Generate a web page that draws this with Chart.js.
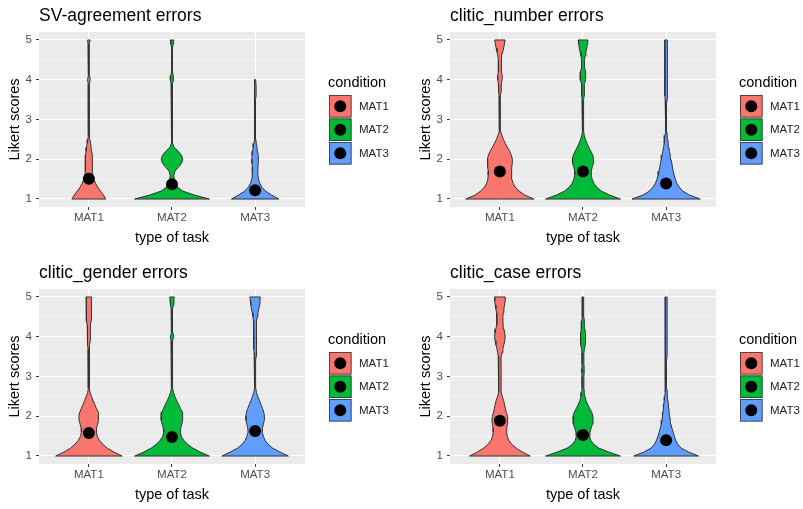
<!DOCTYPE html>
<html>
<head>
  <meta charset="UTF-8">
  <script src="https://cdn.jsdelivr.net/npm/chart.js"></script>
  <title>Likert violins</title>
  <style>
    body { margin: 0; background: #fff; width: 803px; height: 509px; overflow: hidden; position: relative; }
    canvas { position: absolute; }
  </style>
</head>
<body>
  <canvas id="c0" width="392" height="254" style="left:0px;top:0px"></canvas>
  <canvas id="c1" width="392" height="254" style="left:411px;top:0px"></canvas>
  <canvas id="c2" width="392" height="254" style="left:0px;top:257px"></canvas>
  <canvas id="c3" width="392" height="254" style="left:411px;top:257px"></canvas>
</body>
</html>

<script>
  var titles = ['SV-agreement errors', 'clitic_number errors', 'clitic_gender errors', 'clitic_case errors'];
  var categories = ['MAT1', 'MAT2', 'MAT3'];
  var colors = ['#F8766D', '#00BA38', '#619CFF'];
  var yTicks = [1, 1.5, 2, 2.5, 3, 3.5, 4, 4.5, 5];
  var yLevels = [1, 1.1, 1.2, 1.3, 1.4, 1.5, 1.6, 1.7, 1.8, 1.9,
    2, 2.1, 2.2, 2.3, 2.4, 2.5, 2.6, 2.7, 2.8, 2.9,
    3, 3.1, 3.2, 3.3, 3.4, 3.5, 3.6, 3.7, 3.8, 3.9,
    4, 4.1, 4.2, 4.3, 4.4, 4.5, 4.6, 4.7, 4.8, 4.9, 5];

  // half widths of each violin (x units) at yLevels
  var svMat1 = [.205, .175, .14, .105, .08, .06, .048, .042, .04, .042,
    .046, .04, .034, .028, .02, .012, .01, .008, .01, .006,
    .005, .005, .005, .007, .006, .005, .005, .005, .005, .008,
    .016, .008, .005, .005, .005, .005, .005, .005, .006, .01, .015];
  var svMat2 = [.45, .27, .13, .065, .038, .026, .022, .035, .075, .115,
    .13, .115, .075, .025, .008, .005, .005, .005, .005, .005,
    .005, .005, .005, .005, .005, .005, .005, .005, .006, .012,
    .02, .015, .007, .005, .005, .005, .005, .005, .005, .014, .02];
  var svMat3 = [.285, .2, .125, .08, .055, .04, .034, .032, .034, .038,
    .04, .036, .03, .024, .014, .008, .006, .005, .005, .004,
    .004, .004, .004, .004, .005, .007, .012, .012, .012, .01,
    .008, null, null, null, null, null, null, null, null, null, null];

  var numMat1 = [.41, .3, .23, .185, .158, .145, .14, .14, .145, .15,
    .15, .138, .118, .09, .065, .042, .024, .01, .006, .005,
    .005, .005, .005, .005, .005, .006, .01, .014, .016, .018,
    .026, .028, .02, .017, .016, .018, .025, .035, .045, .055, .062];
  var numMat2 = [.45, .32, .22, .165, .13, .11, .1, .1, .11, .125,
    .128, .118, .095, .07, .048, .03, .015, .008, .006, .006,
    .006, .006, .006, .006, .008, .012, .014, .016, .016, .018,
    .032, .034, .03, .02, .016, .018, .025, .035, .045, .052, .058];
  var numMat3 = [.41, .28, .2, .158, .128, .11, .096, .086, .076, .068,
    .058, .05, .04, .032, .025, .02, .014, .008, .005, .004,
    .004, .004, .004, .004, .005, .012, .015, .015, .015, .015,
    .015, .015, .015, .015, .015, .015, .015, .015, .015, .015, .015];

  var genMat1 = [.40, .3, .22, .165, .125, .1, .09, .092, .105, .118,
    .12, .11, .09, .07, .05, .032, .014, .006, .005, .008,
    .005, .004, .006, .006, .008, .01, .01, .01, .012, .016,
    .022, .016, .016, .02, .026, .03, .03, .03, .032, .032, .032];
  var genMat2 = [.45, .34, .25, .185, .14, .112, .1, .104, .118, .128,
    .132, .124, .1, .08, .055, .035, .018, .008, .005, .005,
    .005, .005, .006, .005, .005, .008, .012, .008, .006, .012,
    .02, .012, .006, .005, .005, .005, .006, .01, .018, .024, .026];
  var genMat3 = [.40, .3, .21, .155, .118, .098, .085, .088, .1, .11,
    .112, .104, .088, .07, .05, .032, .016, .008, .006, .005,
    .005, .005, .005, .006, .01, .012, .012, .014, .014, .018,
    .022, .018, .016, .016, .02, .026, .034, .044, .052, .058, .062];

  var caseMat1 = [.365, .27, .195, .14, .105, .088, .08, .082, .09, .096,
    .09, .076, .066, .056, .044, .028, .016, .014, .014, .014,
    .014, .014, .014, .014, .016, .02, .026, .036, .048, .058,
    .064, .058, .048, .04, .036, .036, .04, .048, .056, .062, .064];
  var caseMat2 = [.45, .31, .19, .125, .092, .08, .084, .098, .112, .12,
    .12, .105, .08, .056, .036, .024, .016, .012, .01, .01,
    .012, .014, .014, .012, .01, .01, .012, .018, .026, .03,
    .032, .028, .022, .018, .014, .01, .008, .008, .008, .008, .008];
  var caseMat3 = [.39, .27, .18, .14, .115, .098, .084, .07, .058, .05,
    .044, .038, .032, .028, .022, .018, .012, .007, .005, .004,
    .004, .004, .004, .004, .005, .012, .012, .012, .012, .012,
    .012, .012, .012, .012, .012, .012, .012, .012, .012, .012, .012];

  var svMeans = [1.51, 1.37, 1.22];
  var numMeans = [1.69, 1.69, 1.39];
  var genMeans = [1.58, 1.48, 1.63];
  var caseMeans = [1.89, 1.53, 1.40];

  var panelWidths = [
    [svMat1, svMat2, svMat3],
    [numMat1, numMat2, numMat3],
    [genMat1, genMat2, genMat3],
    [caseMat1, caseMat2, caseMat3]
  ];
  var panelMeans = [svMeans, numMeans, genMeans, caseMeans];

  var edge = '#333333';
  var fam = '"Liberation Sans", Arial, sans-serif';
  Chart.defaults.font.family = fam;

  function violinSets(center, widths, color) {
    var pts = [];
    for (var i = 0; i < yLevels.length; i++) {
      if (widths[i] != null) pts.push({ y: yLevels[i], w: widths[i] });
    }
    var left = pts.map(function (p) { return { x: center - p.w, y: p.y }; });
    var right = pts.map(function (p) { return { x: center + p.w, y: p.y }; });
    var outline = right.concat(left.slice().reverse(), [right[0]]);
    return [
      { data: outline, borderColor: edge, borderWidth: 1, fill: false, pointRadius: 0 },
      { data: left, borderColor: 'rgba(0,0,0,0)', borderWidth: 0, fill: false, pointRadius: 0 },
      { data: right, borderColor: 'rgba(0,0,0,0)', borderWidth: 0, fill: '-1', backgroundColor: color, pointRadius: 0 }
    ];
  }

  var panelBg = {
    id: 'panelBg',
    beforeDraw: function (chart) {
      var a = chart.chartArea;
      chart.ctx.save();
      chart.ctx.fillStyle = '#EBEBEB';
      chart.ctx.fillRect(a.left, a.top, a.right - a.left, a.bottom - a.top);
      chart.ctx.restore();
    }
  };

  var condLegend = {
    id: 'condLegend',
    afterDraw: function (chart) {
      var ctx = chart.ctx;
      var a = chart.chartArea;
      var x0 = a.right + 24;
      var cy = (a.top + a.bottom) / 2;
      ctx.save();
      ctx.textBaseline = 'middle';
      ctx.textAlign = 'left';
      ctx.font = '14.5px ' + fam;
      ctx.fillStyle = '#000';
      ctx.fillText('condition', x0 - 1, cy - 37);
      for (var i = 0; i < categories.length; i++) {
        var top = cy - 24.5 + i * 23.5;
        ctx.fillStyle = colors[i];
        ctx.fillRect(x0, top, 22.5, 22.5);
        ctx.strokeStyle = edge;
        ctx.lineWidth = 0.8;
        ctx.strokeRect(x0 + 0.4, top + 0.4, 21.7, 21.7);
        ctx.beginPath();
        ctx.arc(x0 + 11.25, top + 11.25, 6, 0, 2 * Math.PI);
        ctx.fillStyle = '#000';
        ctx.fill();
        ctx.fillStyle = '#222';
        ctx.font = '11.5px ' + fam;
        ctx.fillText(categories[i], x0 + 30, top + 11.5);
      }
      ctx.restore();
    }
  };

  function isMajor(v) { return Math.abs(v - Math.round(v)) < 1e-6; }

  for (var p = 0; p < 4; p++) {
    var datasets = [{
      data: panelMeans[p].map(function (m, i) { return { x: i + 1, y: m }; }),
      showLine: false,
      pointRadius: 6,
      pointBackgroundColor: '#000',
      pointBorderWidth: 0,
      borderColor: '#000'
    }];
    for (var c = 0; c < 3; c++) {
      datasets = datasets.concat(violinSets(c + 1, panelWidths[p][c], colors[c]));
    }

    new Chart(document.getElementById('c' + p), {
      type: 'line',
      data: { datasets: datasets },
      plugins: [panelBg, condLegend],
      options: {
        responsive: false,
        animation: false,
        events: [],
        indexAxis: 'y',
        layout: { padding: { left: 0, right: 87, top: 0, bottom: 0 } },
        elements: { line: { tension: 0 }, point: { radius: 0 } },
        plugins: {
          legend: { display: false },
          tooltip: { enabled: false },
          filler: { drawTime: 'beforeDatasetsDraw' },
          title: {
            display: true,
            text: titles[p],
            align: 'start',
            fullSize: false,
            color: '#000',
            font: { size: 17.5, weight: 'normal' },
            padding: { top: 6, bottom: 5 }
          }
        },
        scales: {
          x: {
            type: 'linear',
            min: 0.4,
            max: 3.6,
            afterBuildTicks: function (s) { s.ticks = [1, 2, 3].map(function (v) { return { value: v }; }); },
            afterFit: function (s) { s.height = 47; },
            ticks: {
              autoSkip: false,
              maxRotation: 0,
              padding: 1,
              color: '#4D4D4D',
              font: { size: 11.5 },
              callback: function (v) { return categories[v - 1]; }
            },
            grid: { color: '#FFFFFF', lineWidth: 1.1, tickLength: 3, tickColor: edge, tickWidth: 1 },
            border: { display: false },
            title: { display: true, text: 'type of task', color: '#000', font: { size: 14.5 }, padding: { top: 0, bottom: 7 } }
          },
          y: {
            type: 'linear',
            min: 0.8,
            max: 5.2,
            afterBuildTicks: function (s) { s.ticks = yTicks.map(function (v) { return { value: v }; }); },
            afterFit: function (s) { s.width = 39; },
            ticks: {
              autoSkip: false,
              padding: 4,
              color: '#4D4D4D',
              font: { size: 11.5 },
              callback: function (v) { return isMajor(v) ? v : ''; }
            },
            grid: {
              color: '#FFFFFF',
              lineWidth: function (ctx) { return isMajor(ctx.tick.value) ? 1.1 : 0.5; },
              tickLength: 3,
              tickColor: function (ctx) { return isMajor(ctx.tick.value) ? edge : 'rgba(0,0,0,0)'; },
              tickWidth: 1
            },
            border: { display: false },
            title: { display: true, text: 'Likert scores', color: '#000', font: { size: 14.5 }, padding: { top: 6, bottom: 0 } }
          }
        }
      }
    });
  }
</script>
